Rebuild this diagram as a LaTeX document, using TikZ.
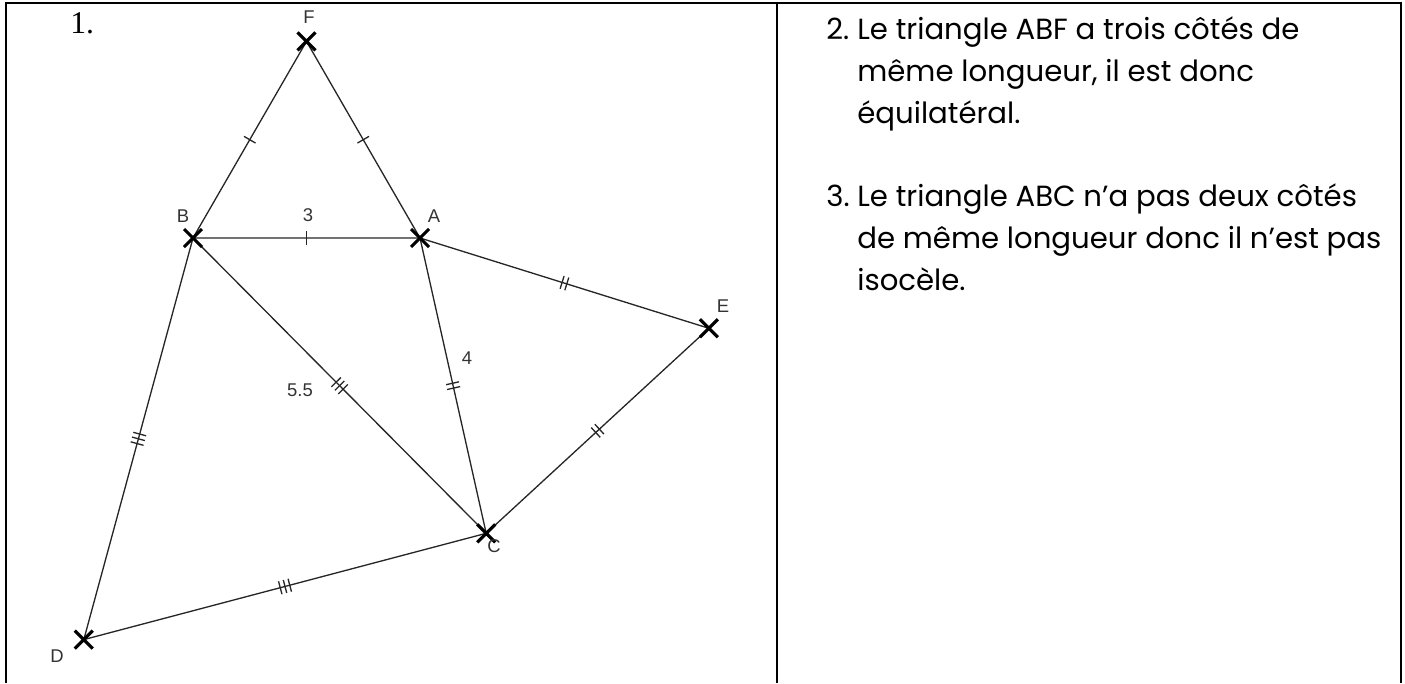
\documentclass[tikz,border=0pt]{standalone}
\usepackage{fontspec}
\setmainfont{Liberation Serif}
\newfontfamily\figfont{Liberation Sans}
\newfontfamily\handfont{Poppins}
\usetikzlibrary{calc}

% tick marks on a side: #1, #2 end points, #3 number of marks
\newcommand{\sidemarks}[3]{%
    \coordinate (mid) at ($(#1)!0.5!(#2)$);
    \foreach \k in {1,...,#3} {
        \pgfmathsetmacro{\off}{(\k-(#3+1)/2)*2.8}
        \coordinate (tk) at ($(mid)!\off pt!(#2)$);
        \draw[tick] ($(tk)!3.8pt!90:(#2)$) -- ($(tk)!3.8pt!-90:(#2)$);
    }
}

\begin{document}
\begin{tikzpicture}[x=0.02cm, y=-0.02cm]
    \tikzset{
        frame/.style={draw=black, line width=1.15pt},
        side/.style={draw=black!85, line width=0.75pt},
        cross/.style={draw=black, line width=1.8pt},
        tick/.style={draw=black!85, line width=0.75pt},
        ptlabel/.style={font=\figfont\fontsize{10.5}{12}\selectfont, text=black!80, inner sep=0pt},
        answer/.style={font=\handfont\fontsize{16.6}{20}\selectfont, anchor=base west, inner sep=0pt}
    }
    \useasboundingbox (0,0) rectangle (1405,683);

    % table
    \draw[frame] (6,683) -- (6,3) -- (1401,3) -- (1401,683);
    \draw[frame] (777,3) -- (777,683);

    % points
    \coordinate (B) at (193,238);
    \coordinate (A) at (420,238);
    \coordinate (F) at (306.5,41.4);
    \coordinate (C) at (486.2,533.3);
    \coordinate (E) at (708.9,328.3);
    \coordinate (D) at (83.8,639.6);

    % sides
    \draw[side] (B) -- (F) -- (A) -- cycle;
    \draw[side] (A) -- (E) -- (C) -- cycle;
    \draw[side] (B) -- (C) -- (D) -- cycle;

    \sidemarks{B}{F}{1}
    \sidemarks{F}{A}{1}
    \sidemarks{B}{A}{1}
    \sidemarks{A}{E}{2}
    \sidemarks{A}{C}{2}
    \sidemarks{C}{E}{2}
    \sidemarks{B}{C}{3}
    \sidemarks{B}{D}{3}
    \sidemarks{D}{C}{3}

    \foreach \p in {A,B,C,D,E,F}
        \draw[cross] (\p) +(-9,-9) -- +(9,9) (\p) +(-9,9) -- +(9,-9);

    % labels
    \node[ptlabel] (labF) at (309,17) {F};
    \node[ptlabel] (labB) at (183,216) {B};
    \node[ptlabel] (labA) at (434,216) {A};
    \node[ptlabel] (labE) at (723,306) {E};
    \node[ptlabel] (labC) at (494,546) {C};
    \node[ptlabel] (labD) at (57,656) {D};
    \node[ptlabel] (lenAB) at (308,215) {3};
    \node[ptlabel] (lenAC) at (467,358) {4};
    \node[ptlabel] (lenBC) at (300,390) {5.5};

    \node[anchor=base west, inner sep=0pt, font=\fontsize{18}{20}\selectfont] (q1) at (70,33) {1.};

    % answers
    \node[answer] (n2) at (826,39) {2.};
    \node[answer] (a2l1) at (857,39) {Le triangle ABF a trois côtés de};
    \node[answer] (a2l2) at (857,81) {même longueur, il est donc};
    \node[answer] (a2l3) at (857,123) {équilatéral.};
    \node[answer] (n3) at (826,206) {3.};
    \node[answer] (a3l1) at (857,206) {Le triangle ABC n’a pas deux côtés};
    \node[answer] (a3l2) at (857,248) {de même longueur donc il n’est pas};
    \node[answer] (a3l3) at (857,290) {isocèle.};
\end{tikzpicture}
\end{document}
